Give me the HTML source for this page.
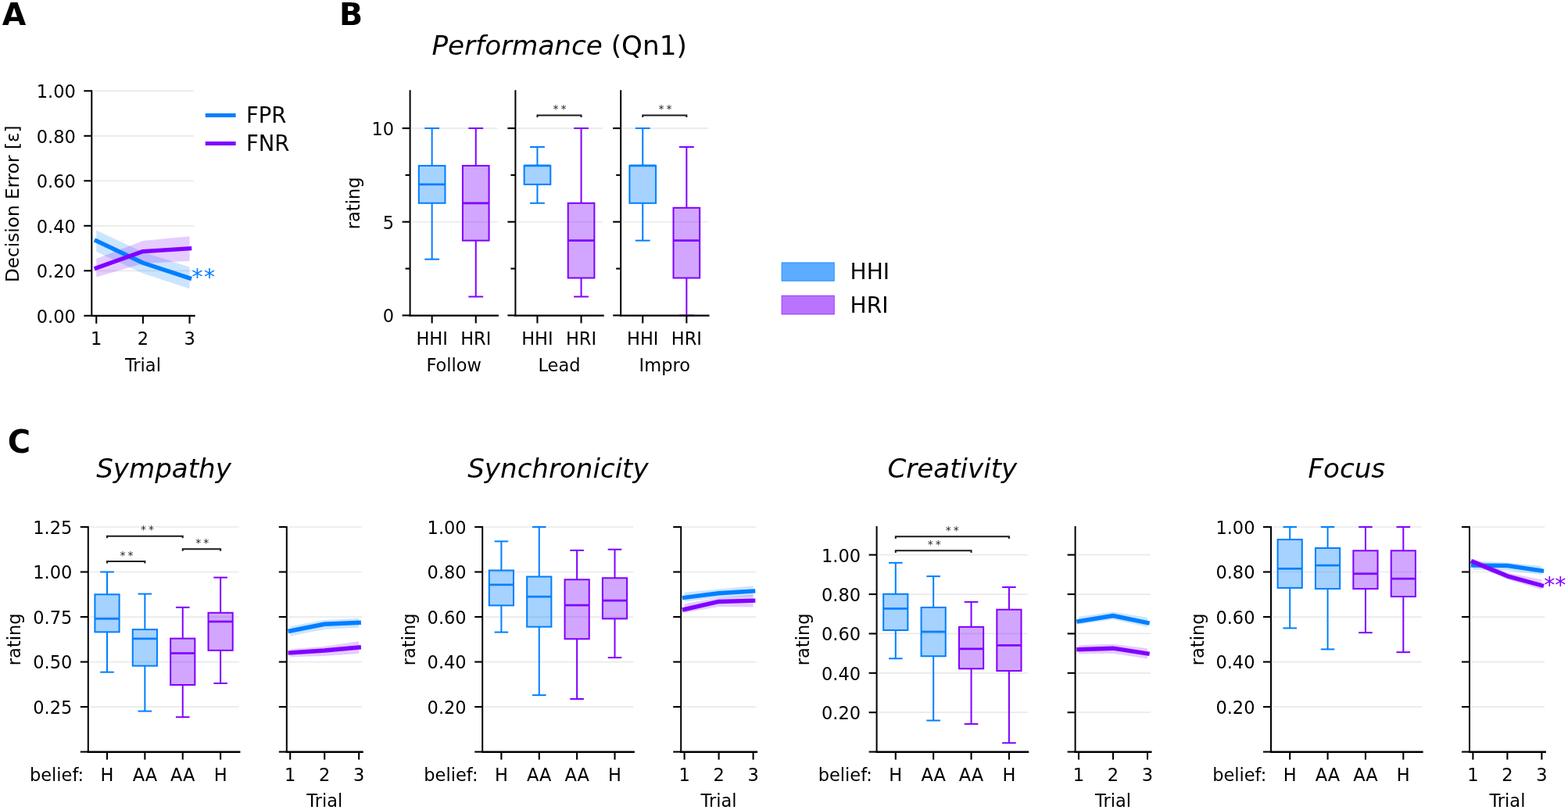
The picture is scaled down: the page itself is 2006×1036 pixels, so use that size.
<!DOCTYPE html>
<html><head><meta charset="utf-8"><style>
html,body{margin:0;padding:0;background:#fff;}
svg{display:block;font-family:"DejaVu Sans","Liberation Sans",sans-serif;}
</style></head><body>
<svg width="2006" height="1036" viewBox="0 0 2006 1036">
<rect width="2006" height="1036" fill="#fff"/>
<text x="2.75" y="31.90" font-size="39.5" text-anchor="start" fill="#000" font-weight="bold">A</text>
<line x1="119.80" y1="346.30" x2="248.00" y2="346.30" stroke="#eaeaea" stroke-width="1.7" stroke-linecap="butt"/>
<line x1="119.80" y1="288.80" x2="248.00" y2="288.80" stroke="#eaeaea" stroke-width="1.7" stroke-linecap="butt"/>
<line x1="119.80" y1="231.30" x2="248.00" y2="231.30" stroke="#eaeaea" stroke-width="1.7" stroke-linecap="butt"/>
<line x1="119.80" y1="173.80" x2="248.00" y2="173.80" stroke="#eaeaea" stroke-width="1.7" stroke-linecap="butt"/>
<line x1="119.80" y1="116.30" x2="248.00" y2="116.30" stroke="#eaeaea" stroke-width="1.7" stroke-linecap="butt"/>
<polygon points="123.26,294.61 182.90,322.44 242.54,341.50 242.54,369.19 182.90,349.75 123.26,321.89" fill="#007fff" fill-opacity="0.2" stroke="none"/>
<polygon points="123.26,331.06 182.90,308.06 242.54,302.20 242.54,333.65 182.90,337.10 123.26,354.49" fill="#7f00ff" fill-opacity="0.2" stroke="none"/>
<polyline points="123.26,308.00 182.90,336.24 242.54,355.79" fill="none" stroke="#007fff" stroke-width="5.4" stroke-linecap="square" stroke-linejoin="round"/>
<polyline points="123.26,342.85 182.90,321.58 242.54,317.84" fill="none" stroke="#7f00ff" stroke-width="5.4" stroke-linecap="square" stroke-linejoin="round"/>
<line x1="107.30" y1="403.80" x2="117.30" y2="403.80" stroke="#000" stroke-width="2.1" stroke-linecap="butt"/>
<line x1="107.30" y1="346.30" x2="117.30" y2="346.30" stroke="#000" stroke-width="2.1" stroke-linecap="butt"/>
<line x1="107.30" y1="288.80" x2="117.30" y2="288.80" stroke="#000" stroke-width="2.1" stroke-linecap="butt"/>
<line x1="107.30" y1="231.30" x2="117.30" y2="231.30" stroke="#000" stroke-width="2.1" stroke-linecap="butt"/>
<line x1="107.30" y1="173.80" x2="117.30" y2="173.80" stroke="#000" stroke-width="2.1" stroke-linecap="butt"/>
<line x1="107.30" y1="116.30" x2="117.30" y2="116.30" stroke="#000" stroke-width="2.1" stroke-linecap="butt"/>
<line x1="123.26" y1="403.80" x2="123.26" y2="413.80" stroke="#000" stroke-width="2.1" stroke-linecap="butt"/>
<line x1="182.90" y1="403.80" x2="182.90" y2="413.80" stroke="#000" stroke-width="2.1" stroke-linecap="butt"/>
<line x1="242.54" y1="403.80" x2="242.54" y2="413.80" stroke="#000" stroke-width="2.1" stroke-linecap="butt"/>
<line x1="117.30" y1="403.80" x2="117.30" y2="116.30" stroke="#000" stroke-width="2.0" stroke-linecap="square"/>
<line x1="117.30" y1="403.95" x2="248.50" y2="403.95" stroke="#000" stroke-width="2.3" stroke-linecap="square"/>
<text x="96.80" y="412.70" font-size="22.5" text-anchor="end" fill="#000">0.00</text>
<text x="96.80" y="355.20" font-size="22.5" text-anchor="end" fill="#000">0.20</text>
<text x="96.80" y="297.70" font-size="22.5" text-anchor="end" fill="#000">0.40</text>
<text x="96.80" y="240.20" font-size="22.5" text-anchor="end" fill="#000">0.60</text>
<text x="96.80" y="182.70" font-size="22.5" text-anchor="end" fill="#000">0.80</text>
<text x="96.80" y="125.20" font-size="22.5" text-anchor="end" fill="#000">1.00</text>
<text x="123.26" y="441.00" font-size="22.5" text-anchor="middle" fill="#000">1</text>
<text x="182.90" y="441.00" font-size="22.5" text-anchor="middle" fill="#000">2</text>
<text x="242.54" y="441.00" font-size="22.5" text-anchor="middle" fill="#000">3</text>
<text x="182.90" y="474.70" font-size="22.5" text-anchor="middle" fill="#000">Trial</text>
<text transform="translate(23.7,260.8) rotate(-90)" font-size="23.2" text-anchor="middle">Decision Error [ε]</text>
<line x1="262.70" y1="147.40" x2="301.60" y2="147.40" stroke="#007fff" stroke-width="5" stroke-linecap="butt"/>
<line x1="262.70" y1="183.50" x2="301.60" y2="183.50" stroke="#7f00ff" stroke-width="5" stroke-linecap="butt"/>
<text x="314.91" y="157.40" font-size="27.5" text-anchor="start" fill="#000">FPR</text>
<text x="314.91" y="193.30" font-size="27.5" text-anchor="start" fill="#000">FNR</text>
<text x="245.34" y="363.84" font-size="28.8" text-anchor="start" fill="#007fff" letter-spacing="1">**</text>
<text x="434.07" y="32.00" font-size="39.5" text-anchor="start" fill="#000" font-weight="bold">B</text>
<text x="552.4" y="69.8" font-size="34.2"><tspan font-style="italic">Performance</tspan> (Qn1)</text>
<line x1="527.10" y1="283.73" x2="636.30" y2="283.73" stroke="#eaeaea" stroke-width="1.7" stroke-linecap="butt"/>
<line x1="527.10" y1="164.07" x2="636.30" y2="164.07" stroke="#eaeaea" stroke-width="1.7" stroke-linecap="butt"/>
<line x1="552.65" y1="259.80" x2="552.65" y2="331.60" stroke="#007fff" stroke-width="2.0" stroke-linecap="butt"/>
<line x1="552.65" y1="211.93" x2="552.65" y2="164.07" stroke="#007fff" stroke-width="2.0" stroke-linecap="butt"/>
<line x1="544.24" y1="331.60" x2="561.07" y2="331.60" stroke="#007fff" stroke-width="2.0" stroke-linecap="square"/>
<line x1="544.24" y1="164.07" x2="561.07" y2="164.07" stroke="#007fff" stroke-width="2.0" stroke-linecap="square"/>
<rect x="535.82" y="211.93" width="33.66" height="47.87" fill="rgba(0,127,255,0.35)" stroke="#007fff" stroke-width="2.0"/>
<line x1="535.82" y1="235.87" x2="569.48" y2="235.87" stroke="#007fff" stroke-width="2.7" stroke-linecap="butt"/>
<line x1="608.75" y1="307.67" x2="608.75" y2="379.47" stroke="#7f00ff" stroke-width="2.0" stroke-linecap="butt"/>
<line x1="608.75" y1="211.93" x2="608.75" y2="164.07" stroke="#7f00ff" stroke-width="2.0" stroke-linecap="butt"/>
<line x1="600.34" y1="379.47" x2="617.16" y2="379.47" stroke="#7f00ff" stroke-width="2.0" stroke-linecap="square"/>
<line x1="600.34" y1="164.07" x2="617.16" y2="164.07" stroke="#7f00ff" stroke-width="2.0" stroke-linecap="square"/>
<rect x="591.92" y="211.93" width="33.66" height="95.73" fill="rgba(127,0,255,0.35)" stroke="#7f00ff" stroke-width="2.0"/>
<line x1="591.92" y1="259.80" x2="625.58" y2="259.80" stroke="#7f00ff" stroke-width="2.7" stroke-linecap="butt"/>
<line x1="514.60" y1="403.40" x2="524.60" y2="403.40" stroke="#000" stroke-width="2.1" stroke-linecap="butt"/>
<line x1="514.60" y1="283.73" x2="524.60" y2="283.73" stroke="#000" stroke-width="2.1" stroke-linecap="butt"/>
<line x1="514.60" y1="164.07" x2="524.60" y2="164.07" stroke="#000" stroke-width="2.1" stroke-linecap="butt"/>
<line x1="518.60" y1="343.57" x2="524.60" y2="343.57" stroke="#000" stroke-width="2.1" stroke-linecap="butt"/>
<line x1="518.60" y1="223.90" x2="524.60" y2="223.90" stroke="#000" stroke-width="2.1" stroke-linecap="butt"/>
<line x1="552.65" y1="403.40" x2="552.65" y2="413.40" stroke="#000" stroke-width="2.1" stroke-linecap="butt"/>
<line x1="608.75" y1="403.40" x2="608.75" y2="413.40" stroke="#000" stroke-width="2.1" stroke-linecap="butt"/>
<line x1="524.60" y1="403.40" x2="524.60" y2="116.20" stroke="#000" stroke-width="2.0" stroke-linecap="square"/>
<line x1="524.60" y1="403.55" x2="636.80" y2="403.55" stroke="#000" stroke-width="2.3" stroke-linecap="square"/>
<text x="504.10" y="412.30" font-size="22.5" text-anchor="end" fill="#000">0</text>
<text x="504.10" y="292.63" font-size="22.5" text-anchor="end" fill="#000">5</text>
<text x="504.10" y="172.97" font-size="22.5" text-anchor="end" fill="#000">10</text>
<text x="552.65" y="440.60" font-size="22.5" text-anchor="middle" fill="#000">HHI</text>
<text x="608.75" y="440.60" font-size="22.5" text-anchor="middle" fill="#000">HRI</text>
<text x="580.70" y="474.60" font-size="22.5" text-anchor="middle" fill="#000">Follow</text>
<line x1="661.90" y1="283.73" x2="771.10" y2="283.73" stroke="#eaeaea" stroke-width="1.7" stroke-linecap="butt"/>
<line x1="661.90" y1="164.07" x2="771.10" y2="164.07" stroke="#eaeaea" stroke-width="1.7" stroke-linecap="butt"/>
<line x1="687.45" y1="235.87" x2="687.45" y2="259.80" stroke="#007fff" stroke-width="2.0" stroke-linecap="butt"/>
<line x1="687.45" y1="211.93" x2="687.45" y2="188.00" stroke="#007fff" stroke-width="2.0" stroke-linecap="butt"/>
<line x1="679.04" y1="259.80" x2="695.87" y2="259.80" stroke="#007fff" stroke-width="2.0" stroke-linecap="square"/>
<line x1="679.04" y1="188.00" x2="695.87" y2="188.00" stroke="#007fff" stroke-width="2.0" stroke-linecap="square"/>
<rect x="670.62" y="211.93" width="33.66" height="23.93" fill="rgba(0,127,255,0.35)" stroke="#007fff" stroke-width="2.0"/>
<line x1="670.62" y1="211.93" x2="704.28" y2="211.93" stroke="#007fff" stroke-width="2.7" stroke-linecap="butt"/>
<line x1="743.55" y1="355.53" x2="743.55" y2="379.47" stroke="#7f00ff" stroke-width="2.0" stroke-linecap="butt"/>
<line x1="743.55" y1="259.80" x2="743.55" y2="164.07" stroke="#7f00ff" stroke-width="2.0" stroke-linecap="butt"/>
<line x1="735.14" y1="379.47" x2="751.97" y2="379.47" stroke="#7f00ff" stroke-width="2.0" stroke-linecap="square"/>
<line x1="735.14" y1="164.07" x2="751.97" y2="164.07" stroke="#7f00ff" stroke-width="2.0" stroke-linecap="square"/>
<rect x="726.72" y="259.80" width="33.66" height="95.73" fill="rgba(127,0,255,0.35)" stroke="#7f00ff" stroke-width="2.0"/>
<line x1="726.72" y1="307.67" x2="760.38" y2="307.67" stroke="#7f00ff" stroke-width="2.7" stroke-linecap="butt"/>
<line x1="649.40" y1="403.40" x2="659.40" y2="403.40" stroke="#000" stroke-width="2.1" stroke-linecap="butt"/>
<line x1="649.40" y1="283.73" x2="659.40" y2="283.73" stroke="#000" stroke-width="2.1" stroke-linecap="butt"/>
<line x1="649.40" y1="164.07" x2="659.40" y2="164.07" stroke="#000" stroke-width="2.1" stroke-linecap="butt"/>
<line x1="653.40" y1="343.57" x2="659.40" y2="343.57" stroke="#000" stroke-width="2.1" stroke-linecap="butt"/>
<line x1="653.40" y1="223.90" x2="659.40" y2="223.90" stroke="#000" stroke-width="2.1" stroke-linecap="butt"/>
<line x1="687.45" y1="403.40" x2="687.45" y2="413.40" stroke="#000" stroke-width="2.1" stroke-linecap="butt"/>
<line x1="743.55" y1="403.40" x2="743.55" y2="413.40" stroke="#000" stroke-width="2.1" stroke-linecap="butt"/>
<line x1="659.40" y1="403.40" x2="659.40" y2="116.20" stroke="#000" stroke-width="2.0" stroke-linecap="square"/>
<line x1="659.40" y1="403.55" x2="771.60" y2="403.55" stroke="#000" stroke-width="2.3" stroke-linecap="square"/>
<text x="687.45" y="440.60" font-size="22.5" text-anchor="middle" fill="#000">HHI</text>
<text x="743.55" y="440.60" font-size="22.5" text-anchor="middle" fill="#000">HRI</text>
<text x="715.50" y="474.60" font-size="22.5" text-anchor="middle" fill="#000">Lead</text>
<polyline points="687.45,150.00 687.45,147.40 743.55,147.40 743.55,150.00" fill="none" stroke="#1a1a1a" stroke-width="2" stroke-linejoin="miter"/>
<text x="707.60" y="144.00" font-size="14" text-anchor="start" fill="#222">*</text>
<text x="717.60" y="144.00" font-size="14" text-anchor="start" fill="#222">*</text>
<line x1="796.70" y1="283.73" x2="905.90" y2="283.73" stroke="#eaeaea" stroke-width="1.7" stroke-linecap="butt"/>
<line x1="796.70" y1="164.07" x2="905.90" y2="164.07" stroke="#eaeaea" stroke-width="1.7" stroke-linecap="butt"/>
<line x1="822.25" y1="259.80" x2="822.25" y2="307.67" stroke="#007fff" stroke-width="2.0" stroke-linecap="butt"/>
<line x1="822.25" y1="211.93" x2="822.25" y2="164.07" stroke="#007fff" stroke-width="2.0" stroke-linecap="butt"/>
<line x1="813.84" y1="307.67" x2="830.66" y2="307.67" stroke="#007fff" stroke-width="2.0" stroke-linecap="square"/>
<line x1="813.84" y1="164.07" x2="830.66" y2="164.07" stroke="#007fff" stroke-width="2.0" stroke-linecap="square"/>
<rect x="805.42" y="211.93" width="33.66" height="47.87" fill="rgba(0,127,255,0.35)" stroke="#007fff" stroke-width="2.0"/>
<line x1="805.42" y1="211.93" x2="839.08" y2="211.93" stroke="#007fff" stroke-width="2.7" stroke-linecap="butt"/>
<line x1="878.35" y1="355.53" x2="878.35" y2="403.40" stroke="#7f00ff" stroke-width="2.0" stroke-linecap="butt"/>
<line x1="878.35" y1="265.78" x2="878.35" y2="188.00" stroke="#7f00ff" stroke-width="2.0" stroke-linecap="butt"/>
<line x1="869.94" y1="403.40" x2="886.77" y2="403.40" stroke="#7f00ff" stroke-width="2.0" stroke-linecap="square"/>
<line x1="869.94" y1="188.00" x2="886.77" y2="188.00" stroke="#7f00ff" stroke-width="2.0" stroke-linecap="square"/>
<rect x="861.52" y="265.78" width="33.66" height="89.75" fill="rgba(127,0,255,0.35)" stroke="#7f00ff" stroke-width="2.0"/>
<line x1="861.52" y1="307.67" x2="895.18" y2="307.67" stroke="#7f00ff" stroke-width="2.7" stroke-linecap="butt"/>
<line x1="784.20" y1="403.40" x2="794.20" y2="403.40" stroke="#000" stroke-width="2.1" stroke-linecap="butt"/>
<line x1="784.20" y1="283.73" x2="794.20" y2="283.73" stroke="#000" stroke-width="2.1" stroke-linecap="butt"/>
<line x1="784.20" y1="164.07" x2="794.20" y2="164.07" stroke="#000" stroke-width="2.1" stroke-linecap="butt"/>
<line x1="788.20" y1="343.57" x2="794.20" y2="343.57" stroke="#000" stroke-width="2.1" stroke-linecap="butt"/>
<line x1="788.20" y1="223.90" x2="794.20" y2="223.90" stroke="#000" stroke-width="2.1" stroke-linecap="butt"/>
<line x1="822.25" y1="403.40" x2="822.25" y2="413.40" stroke="#000" stroke-width="2.1" stroke-linecap="butt"/>
<line x1="878.35" y1="403.40" x2="878.35" y2="413.40" stroke="#000" stroke-width="2.1" stroke-linecap="butt"/>
<line x1="794.20" y1="403.40" x2="794.20" y2="116.20" stroke="#000" stroke-width="2.0" stroke-linecap="square"/>
<line x1="794.20" y1="403.55" x2="906.40" y2="403.55" stroke="#000" stroke-width="2.3" stroke-linecap="square"/>
<text x="822.25" y="440.60" font-size="22.5" text-anchor="middle" fill="#000">HHI</text>
<text x="878.35" y="440.60" font-size="22.5" text-anchor="middle" fill="#000">HRI</text>
<text x="850.30" y="474.60" font-size="22.5" text-anchor="middle" fill="#000">Impro</text>
<polyline points="822.25,150.00 822.25,147.40 878.35,147.40 878.35,150.00" fill="none" stroke="#1a1a1a" stroke-width="2" stroke-linejoin="miter"/>
<text x="842.40" y="144.00" font-size="14" text-anchor="start" fill="#222">*</text>
<text x="852.40" y="144.00" font-size="14" text-anchor="start" fill="#222">*</text>
<text transform="translate(459.82,259.80) rotate(-90)" font-size="22.5" text-anchor="middle">rating</text>
<rect x="1000.1" y="335.9" width="67.2" height="23.4" fill="#007fff" fill-opacity="0.64" stroke="#007fff" stroke-opacity="0.75" stroke-width="1"/>
<rect x="1000.1" y="378.1" width="67.2" height="23.9" fill="#7f00ff" fill-opacity="0.55" stroke="#7f00ff" stroke-opacity="0.65" stroke-width="1"/>
<text x="1087.55" y="356.70" font-size="28.1" text-anchor="start" fill="#000">HHI</text>
<text x="1087.55" y="400.30" font-size="28.1" text-anchor="start" fill="#000">HRI</text>
<text x="9.80" y="578.50" font-size="40" text-anchor="start" fill="#000" font-weight="bold">C</text>
<line x1="115.30" y1="904.08" x2="305.80" y2="904.08" stroke="#eaeaea" stroke-width="1.7" stroke-linecap="butt"/>
<line x1="115.30" y1="846.56" x2="305.80" y2="846.56" stroke="#eaeaea" stroke-width="1.7" stroke-linecap="butt"/>
<line x1="115.30" y1="789.04" x2="305.80" y2="789.04" stroke="#eaeaea" stroke-width="1.7" stroke-linecap="butt"/>
<line x1="115.30" y1="731.52" x2="305.80" y2="731.52" stroke="#eaeaea" stroke-width="1.7" stroke-linecap="butt"/>
<line x1="115.30" y1="674.00" x2="305.80" y2="674.00" stroke="#eaeaea" stroke-width="1.7" stroke-linecap="butt"/>
<line x1="136.99" y1="808.37" x2="136.99" y2="859.67" stroke="#007fff" stroke-width="2.0" stroke-linecap="butt"/>
<line x1="136.99" y1="760.28" x2="136.99" y2="731.52" stroke="#007fff" stroke-width="2.0" stroke-linecap="butt"/>
<line x1="129.19" y1="859.67" x2="144.79" y2="859.67" stroke="#007fff" stroke-width="2.0" stroke-linecap="square"/>
<line x1="129.19" y1="731.52" x2="144.79" y2="731.52" stroke="#007fff" stroke-width="2.0" stroke-linecap="square"/>
<rect x="121.39" y="760.28" width="31.20" height="48.09" fill="rgba(0,127,255,0.35)" stroke="#007fff" stroke-width="2.0"/>
<line x1="121.39" y1="791.34" x2="152.59" y2="791.34" stroke="#007fff" stroke-width="2.7" stroke-linecap="butt"/>
<line x1="185.36" y1="851.62" x2="185.36" y2="909.60" stroke="#007fff" stroke-width="2.0" stroke-linecap="butt"/>
<line x1="185.36" y1="805.15" x2="185.36" y2="759.59" stroke="#007fff" stroke-width="2.0" stroke-linecap="butt"/>
<line x1="177.56" y1="909.60" x2="193.16" y2="909.60" stroke="#007fff" stroke-width="2.0" stroke-linecap="square"/>
<line x1="177.56" y1="759.59" x2="193.16" y2="759.59" stroke="#007fff" stroke-width="2.0" stroke-linecap="square"/>
<rect x="169.76" y="805.15" width="31.20" height="46.48" fill="rgba(0,127,255,0.35)" stroke="#007fff" stroke-width="2.0"/>
<line x1="169.76" y1="816.88" x2="200.96" y2="816.88" stroke="#007fff" stroke-width="2.7" stroke-linecap="butt"/>
<line x1="233.74" y1="876.01" x2="233.74" y2="917.19" stroke="#7f00ff" stroke-width="2.0" stroke-linecap="butt"/>
<line x1="233.74" y1="816.65" x2="233.74" y2="776.85" stroke="#7f00ff" stroke-width="2.0" stroke-linecap="butt"/>
<line x1="225.94" y1="917.19" x2="241.54" y2="917.19" stroke="#7f00ff" stroke-width="2.0" stroke-linecap="square"/>
<line x1="225.94" y1="776.85" x2="241.54" y2="776.85" stroke="#7f00ff" stroke-width="2.0" stroke-linecap="square"/>
<rect x="218.14" y="816.65" width="31.20" height="59.36" fill="rgba(127,0,255,0.35)" stroke="#7f00ff" stroke-width="2.0"/>
<line x1="218.14" y1="835.52" x2="249.34" y2="835.52" stroke="#7f00ff" stroke-width="2.7" stroke-linecap="butt"/>
<line x1="282.11" y1="831.83" x2="282.11" y2="873.94" stroke="#7f00ff" stroke-width="2.0" stroke-linecap="butt"/>
<line x1="282.11" y1="783.75" x2="282.11" y2="738.65" stroke="#7f00ff" stroke-width="2.0" stroke-linecap="butt"/>
<line x1="274.31" y1="873.94" x2="289.91" y2="873.94" stroke="#7f00ff" stroke-width="2.0" stroke-linecap="square"/>
<line x1="274.31" y1="738.65" x2="289.91" y2="738.65" stroke="#7f00ff" stroke-width="2.0" stroke-linecap="square"/>
<rect x="266.51" y="783.75" width="31.20" height="48.09" fill="rgba(127,0,255,0.35)" stroke="#7f00ff" stroke-width="2.0"/>
<line x1="266.51" y1="795.02" x2="297.71" y2="795.02" stroke="#7f00ff" stroke-width="2.7" stroke-linecap="butt"/>
<line x1="102.80" y1="961.60" x2="112.80" y2="961.60" stroke="#000" stroke-width="2.1" stroke-linecap="butt"/>
<line x1="102.80" y1="904.08" x2="112.80" y2="904.08" stroke="#000" stroke-width="2.1" stroke-linecap="butt"/>
<line x1="102.80" y1="846.56" x2="112.80" y2="846.56" stroke="#000" stroke-width="2.1" stroke-linecap="butt"/>
<line x1="102.80" y1="789.04" x2="112.80" y2="789.04" stroke="#000" stroke-width="2.1" stroke-linecap="butt"/>
<line x1="102.80" y1="731.52" x2="112.80" y2="731.52" stroke="#000" stroke-width="2.1" stroke-linecap="butt"/>
<line x1="102.80" y1="674.00" x2="112.80" y2="674.00" stroke="#000" stroke-width="2.1" stroke-linecap="butt"/>
<line x1="136.99" y1="961.60" x2="136.99" y2="971.60" stroke="#000" stroke-width="2.1" stroke-linecap="butt"/>
<line x1="185.36" y1="961.60" x2="185.36" y2="971.60" stroke="#000" stroke-width="2.1" stroke-linecap="butt"/>
<line x1="233.74" y1="961.60" x2="233.74" y2="971.60" stroke="#000" stroke-width="2.1" stroke-linecap="butt"/>
<line x1="282.11" y1="961.60" x2="282.11" y2="971.60" stroke="#000" stroke-width="2.1" stroke-linecap="butt"/>
<line x1="112.80" y1="961.60" x2="112.80" y2="674.00" stroke="#000" stroke-width="2.0" stroke-linecap="square"/>
<line x1="112.80" y1="961.75" x2="306.30" y2="961.75" stroke="#000" stroke-width="2.3" stroke-linecap="square"/>
<text x="92.30" y="912.98" font-size="22.5" text-anchor="end" fill="#000">0.25</text>
<text x="92.30" y="855.46" font-size="22.5" text-anchor="end" fill="#000">0.50</text>
<text x="92.30" y="797.94" font-size="22.5" text-anchor="end" fill="#000">0.75</text>
<text x="92.30" y="740.42" font-size="22.5" text-anchor="end" fill="#000">1.00</text>
<text x="92.30" y="682.90" font-size="22.5" text-anchor="end" fill="#000">1.25</text>
<text x="136.99" y="999.30" font-size="22.5" text-anchor="middle" fill="#000">H</text>
<text x="185.36" y="999.30" font-size="22.5" text-anchor="middle" fill="#000">AA</text>
<text x="233.74" y="999.30" font-size="22.5" text-anchor="middle" fill="#000">AA</text>
<text x="282.11" y="999.30" font-size="22.5" text-anchor="middle" fill="#000">H</text>
<polyline points="136.99,720.60 136.99,718.00 185.36,718.00 185.36,720.60" fill="none" stroke="#1a1a1a" stroke-width="2" stroke-linejoin="miter"/>
<text x="153.38" y="714.60" font-size="14" text-anchor="start" fill="#222">*</text>
<text x="163.38" y="714.60" font-size="14" text-anchor="start" fill="#222">*</text>
<polyline points="136.99,688.30 136.99,685.70 233.74,685.70 233.74,688.30" fill="none" stroke="#1a1a1a" stroke-width="2" stroke-linejoin="miter"/>
<rect x="178.46" y="670.30" width="20" height="10" fill="#fff"/>
<text x="179.96" y="682.30" font-size="14" text-anchor="start" fill="#222">*</text>
<text x="189.96" y="682.30" font-size="14" text-anchor="start" fill="#222">*</text>
<polyline points="233.74,704.80 233.74,702.20 282.11,702.20 282.11,704.80" fill="none" stroke="#1a1a1a" stroke-width="2" stroke-linejoin="miter"/>
<text x="250.28" y="698.80" font-size="14" text-anchor="start" fill="#222">*</text>
<text x="260.28" y="698.80" font-size="14" text-anchor="start" fill="#222">*</text>
<text x="107.10" y="999.30" font-size="22.5" text-anchor="end" fill="#000">belief:</text>
<text x="209.55" y="611.30" font-size="34.1" text-anchor="middle" fill="#000" font-style="italic">Sympathy</text>
<text transform="translate(26.42,817.80) rotate(-90)" font-size="22.5" text-anchor="middle">rating</text>
<line x1="369.30" y1="904.08" x2="463.10" y2="904.08" stroke="#eaeaea" stroke-width="1.7" stroke-linecap="butt"/>
<line x1="369.30" y1="846.56" x2="463.10" y2="846.56" stroke="#eaeaea" stroke-width="1.7" stroke-linecap="butt"/>
<line x1="369.30" y1="789.04" x2="463.10" y2="789.04" stroke="#eaeaea" stroke-width="1.7" stroke-linecap="butt"/>
<line x1="369.30" y1="731.52" x2="463.10" y2="731.52" stroke="#eaeaea" stroke-width="1.7" stroke-linecap="butt"/>
<line x1="369.30" y1="674.00" x2="463.10" y2="674.00" stroke="#eaeaea" stroke-width="1.7" stroke-linecap="butt"/>
<polygon points="371.20,800.89 415.20,792.95 459.20,790.77 459.20,802.38 415.20,804.92 371.20,813.43" fill="#007fff" fill-opacity="0.2" stroke="none"/>
<polygon points="371.20,830.22 415.20,826.77 459.20,820.22 459.20,836.11 415.20,838.97 371.20,840.21" fill="#7f00ff" fill-opacity="0.2" stroke="none"/>
<polyline points="371.20,806.99 415.20,798.24 459.20,796.40" fill="none" stroke="#007fff" stroke-width="5.4" stroke-linecap="square" stroke-linejoin="round"/>
<polyline points="371.20,834.92 415.20,832.06 459.20,828.02" fill="none" stroke="#7f00ff" stroke-width="5.4" stroke-linecap="square" stroke-linejoin="round"/>
<line x1="356.80" y1="961.60" x2="366.80" y2="961.60" stroke="#000" stroke-width="2.1" stroke-linecap="butt"/>
<line x1="356.80" y1="904.08" x2="366.80" y2="904.08" stroke="#000" stroke-width="2.1" stroke-linecap="butt"/>
<line x1="356.80" y1="846.56" x2="366.80" y2="846.56" stroke="#000" stroke-width="2.1" stroke-linecap="butt"/>
<line x1="356.80" y1="789.04" x2="366.80" y2="789.04" stroke="#000" stroke-width="2.1" stroke-linecap="butt"/>
<line x1="356.80" y1="731.52" x2="366.80" y2="731.52" stroke="#000" stroke-width="2.1" stroke-linecap="butt"/>
<line x1="356.80" y1="674.00" x2="366.80" y2="674.00" stroke="#000" stroke-width="2.1" stroke-linecap="butt"/>
<line x1="371.20" y1="961.60" x2="371.20" y2="971.60" stroke="#000" stroke-width="2.1" stroke-linecap="butt"/>
<line x1="415.20" y1="961.60" x2="415.20" y2="971.60" stroke="#000" stroke-width="2.1" stroke-linecap="butt"/>
<line x1="459.20" y1="961.60" x2="459.20" y2="971.60" stroke="#000" stroke-width="2.1" stroke-linecap="butt"/>
<line x1="366.80" y1="961.60" x2="366.80" y2="674.00" stroke="#000" stroke-width="2.0" stroke-linecap="square"/>
<line x1="366.80" y1="961.75" x2="463.60" y2="961.75" stroke="#000" stroke-width="2.3" stroke-linecap="square"/>
<text x="371.20" y="999.30" font-size="22.5" text-anchor="middle" fill="#000">1</text>
<text x="415.20" y="999.30" font-size="22.5" text-anchor="middle" fill="#000">2</text>
<text x="459.20" y="999.30" font-size="22.5" text-anchor="middle" fill="#000">3</text>
<text x="415.20" y="1032.30" font-size="22.5" text-anchor="middle" fill="#000">Trial</text>
<line x1="619.70" y1="904.08" x2="810.20" y2="904.08" stroke="#eaeaea" stroke-width="1.7" stroke-linecap="butt"/>
<line x1="619.70" y1="846.56" x2="810.20" y2="846.56" stroke="#eaeaea" stroke-width="1.7" stroke-linecap="butt"/>
<line x1="619.70" y1="789.04" x2="810.20" y2="789.04" stroke="#eaeaea" stroke-width="1.7" stroke-linecap="butt"/>
<line x1="619.70" y1="731.52" x2="810.20" y2="731.52" stroke="#eaeaea" stroke-width="1.7" stroke-linecap="butt"/>
<line x1="619.70" y1="674.00" x2="810.20" y2="674.00" stroke="#eaeaea" stroke-width="1.7" stroke-linecap="butt"/>
<line x1="641.39" y1="774.37" x2="641.39" y2="808.60" stroke="#007fff" stroke-width="2.0" stroke-linecap="butt"/>
<line x1="641.39" y1="729.51" x2="641.39" y2="692.41" stroke="#007fff" stroke-width="2.0" stroke-linecap="butt"/>
<line x1="633.59" y1="808.60" x2="649.19" y2="808.60" stroke="#007fff" stroke-width="2.0" stroke-linecap="square"/>
<line x1="633.59" y1="692.41" x2="649.19" y2="692.41" stroke="#007fff" stroke-width="2.0" stroke-linecap="square"/>
<rect x="625.79" y="729.51" width="31.20" height="44.87" fill="rgba(0,127,255,0.35)" stroke="#007fff" stroke-width="2.0"/>
<line x1="625.79" y1="747.91" x2="656.99" y2="747.91" stroke="#007fff" stroke-width="2.7" stroke-linecap="butt"/>
<line x1="689.76" y1="801.69" x2="689.76" y2="889.12" stroke="#007fff" stroke-width="2.0" stroke-linecap="butt"/>
<line x1="689.76" y1="737.56" x2="689.76" y2="674.00" stroke="#007fff" stroke-width="2.0" stroke-linecap="butt"/>
<line x1="681.96" y1="889.12" x2="697.56" y2="889.12" stroke="#007fff" stroke-width="2.0" stroke-linecap="square"/>
<line x1="681.96" y1="674.00" x2="697.56" y2="674.00" stroke="#007fff" stroke-width="2.0" stroke-linecap="square"/>
<rect x="674.16" y="737.56" width="31.20" height="64.13" fill="rgba(0,127,255,0.35)" stroke="#007fff" stroke-width="2.0"/>
<line x1="674.16" y1="763.16" x2="705.36" y2="763.16" stroke="#007fff" stroke-width="2.7" stroke-linecap="butt"/>
<line x1="738.14" y1="817.22" x2="738.14" y2="894.01" stroke="#7f00ff" stroke-width="2.0" stroke-linecap="butt"/>
<line x1="738.14" y1="741.30" x2="738.14" y2="703.91" stroke="#7f00ff" stroke-width="2.0" stroke-linecap="butt"/>
<line x1="730.34" y1="894.01" x2="745.94" y2="894.01" stroke="#7f00ff" stroke-width="2.0" stroke-linecap="square"/>
<line x1="730.34" y1="703.91" x2="745.94" y2="703.91" stroke="#7f00ff" stroke-width="2.0" stroke-linecap="square"/>
<rect x="722.54" y="741.30" width="31.20" height="75.93" fill="rgba(127,0,255,0.35)" stroke="#7f00ff" stroke-width="2.0"/>
<line x1="722.54" y1="774.08" x2="753.74" y2="774.08" stroke="#7f00ff" stroke-width="2.7" stroke-linecap="butt"/>
<line x1="786.51" y1="791.34" x2="786.51" y2="841.10" stroke="#7f00ff" stroke-width="2.0" stroke-linecap="butt"/>
<line x1="786.51" y1="739.29" x2="786.51" y2="702.76" stroke="#7f00ff" stroke-width="2.0" stroke-linecap="butt"/>
<line x1="778.71" y1="841.10" x2="794.31" y2="841.10" stroke="#7f00ff" stroke-width="2.0" stroke-linecap="square"/>
<line x1="778.71" y1="702.76" x2="794.31" y2="702.76" stroke="#7f00ff" stroke-width="2.0" stroke-linecap="square"/>
<rect x="770.91" y="739.29" width="31.20" height="52.06" fill="rgba(127,0,255,0.35)" stroke="#7f00ff" stroke-width="2.0"/>
<line x1="770.91" y1="768.05" x2="802.11" y2="768.05" stroke="#7f00ff" stroke-width="2.7" stroke-linecap="butt"/>
<line x1="607.20" y1="961.60" x2="617.20" y2="961.60" stroke="#000" stroke-width="2.1" stroke-linecap="butt"/>
<line x1="607.20" y1="904.08" x2="617.20" y2="904.08" stroke="#000" stroke-width="2.1" stroke-linecap="butt"/>
<line x1="607.20" y1="846.56" x2="617.20" y2="846.56" stroke="#000" stroke-width="2.1" stroke-linecap="butt"/>
<line x1="607.20" y1="789.04" x2="617.20" y2="789.04" stroke="#000" stroke-width="2.1" stroke-linecap="butt"/>
<line x1="607.20" y1="731.52" x2="617.20" y2="731.52" stroke="#000" stroke-width="2.1" stroke-linecap="butt"/>
<line x1="607.20" y1="674.00" x2="617.20" y2="674.00" stroke="#000" stroke-width="2.1" stroke-linecap="butt"/>
<line x1="641.39" y1="961.60" x2="641.39" y2="971.60" stroke="#000" stroke-width="2.1" stroke-linecap="butt"/>
<line x1="689.76" y1="961.60" x2="689.76" y2="971.60" stroke="#000" stroke-width="2.1" stroke-linecap="butt"/>
<line x1="738.14" y1="961.60" x2="738.14" y2="971.60" stroke="#000" stroke-width="2.1" stroke-linecap="butt"/>
<line x1="786.51" y1="961.60" x2="786.51" y2="971.60" stroke="#000" stroke-width="2.1" stroke-linecap="butt"/>
<line x1="617.20" y1="961.60" x2="617.20" y2="674.00" stroke="#000" stroke-width="2.0" stroke-linecap="square"/>
<line x1="617.20" y1="961.75" x2="810.70" y2="961.75" stroke="#000" stroke-width="2.3" stroke-linecap="square"/>
<text x="596.70" y="912.98" font-size="22.5" text-anchor="end" fill="#000">0.20</text>
<text x="596.70" y="855.46" font-size="22.5" text-anchor="end" fill="#000">0.40</text>
<text x="596.70" y="797.94" font-size="22.5" text-anchor="end" fill="#000">0.60</text>
<text x="596.70" y="740.42" font-size="22.5" text-anchor="end" fill="#000">0.80</text>
<text x="596.70" y="682.90" font-size="22.5" text-anchor="end" fill="#000">1.00</text>
<text x="641.39" y="999.30" font-size="22.5" text-anchor="middle" fill="#000">H</text>
<text x="689.76" y="999.30" font-size="22.5" text-anchor="middle" fill="#000">AA</text>
<text x="738.14" y="999.30" font-size="22.5" text-anchor="middle" fill="#000">AA</text>
<text x="786.51" y="999.30" font-size="22.5" text-anchor="middle" fill="#000">H</text>
<text x="611.50" y="999.30" font-size="22.5" text-anchor="end" fill="#000">belief:</text>
<text x="713.95" y="611.30" font-size="34.1" text-anchor="middle" fill="#000" font-style="italic">Synchronicity</text>
<text transform="translate(530.82,817.80) rotate(-90)" font-size="22.5" text-anchor="middle">rating</text>
<line x1="873.70" y1="904.08" x2="967.50" y2="904.08" stroke="#eaeaea" stroke-width="1.7" stroke-linecap="butt"/>
<line x1="873.70" y1="846.56" x2="967.50" y2="846.56" stroke="#eaeaea" stroke-width="1.7" stroke-linecap="butt"/>
<line x1="873.70" y1="789.04" x2="967.50" y2="789.04" stroke="#eaeaea" stroke-width="1.7" stroke-linecap="butt"/>
<line x1="873.70" y1="731.52" x2="967.50" y2="731.52" stroke="#eaeaea" stroke-width="1.7" stroke-linecap="butt"/>
<line x1="873.70" y1="674.00" x2="967.50" y2="674.00" stroke="#eaeaea" stroke-width="1.7" stroke-linecap="butt"/>
<polygon points="875.60,757.69 919.60,753.49 963.60,749.21 963.60,762.87 919.60,764.59 875.60,769.48" fill="#007fff" fill-opacity="0.2" stroke="none"/>
<polygon points="875.60,772.36 919.60,764.39 963.60,760.86 963.60,776.59 919.60,775.90 875.60,783.86" fill="#7f00ff" fill-opacity="0.2" stroke="none"/>
<polyline points="875.60,764.31 919.60,758.70 963.60,755.99" fill="none" stroke="#007fff" stroke-width="5.4" stroke-linecap="square" stroke-linejoin="round"/>
<polyline points="875.60,779.41 919.60,769.48 963.60,768.19" fill="none" stroke="#7f00ff" stroke-width="5.4" stroke-linecap="square" stroke-linejoin="round"/>
<line x1="861.20" y1="961.60" x2="871.20" y2="961.60" stroke="#000" stroke-width="2.1" stroke-linecap="butt"/>
<line x1="861.20" y1="904.08" x2="871.20" y2="904.08" stroke="#000" stroke-width="2.1" stroke-linecap="butt"/>
<line x1="861.20" y1="846.56" x2="871.20" y2="846.56" stroke="#000" stroke-width="2.1" stroke-linecap="butt"/>
<line x1="861.20" y1="789.04" x2="871.20" y2="789.04" stroke="#000" stroke-width="2.1" stroke-linecap="butt"/>
<line x1="861.20" y1="731.52" x2="871.20" y2="731.52" stroke="#000" stroke-width="2.1" stroke-linecap="butt"/>
<line x1="861.20" y1="674.00" x2="871.20" y2="674.00" stroke="#000" stroke-width="2.1" stroke-linecap="butt"/>
<line x1="875.60" y1="961.60" x2="875.60" y2="971.60" stroke="#000" stroke-width="2.1" stroke-linecap="butt"/>
<line x1="919.60" y1="961.60" x2="919.60" y2="971.60" stroke="#000" stroke-width="2.1" stroke-linecap="butt"/>
<line x1="963.60" y1="961.60" x2="963.60" y2="971.60" stroke="#000" stroke-width="2.1" stroke-linecap="butt"/>
<line x1="871.20" y1="961.60" x2="871.20" y2="674.00" stroke="#000" stroke-width="2.0" stroke-linecap="square"/>
<line x1="871.20" y1="961.75" x2="968.00" y2="961.75" stroke="#000" stroke-width="2.3" stroke-linecap="square"/>
<text x="875.60" y="999.30" font-size="22.5" text-anchor="middle" fill="#000">1</text>
<text x="919.60" y="999.30" font-size="22.5" text-anchor="middle" fill="#000">2</text>
<text x="963.60" y="999.30" font-size="22.5" text-anchor="middle" fill="#000">3</text>
<text x="919.60" y="1032.30" font-size="22.5" text-anchor="middle" fill="#000">Trial</text>
<line x1="1124.10" y1="911.21" x2="1314.60" y2="911.21" stroke="#eaeaea" stroke-width="1.7" stroke-linecap="butt"/>
<line x1="1124.10" y1="860.82" x2="1314.60" y2="860.82" stroke="#eaeaea" stroke-width="1.7" stroke-linecap="butt"/>
<line x1="1124.10" y1="810.43" x2="1314.60" y2="810.43" stroke="#eaeaea" stroke-width="1.7" stroke-linecap="butt"/>
<line x1="1124.10" y1="760.04" x2="1314.60" y2="760.04" stroke="#eaeaea" stroke-width="1.7" stroke-linecap="butt"/>
<line x1="1124.10" y1="709.65" x2="1314.60" y2="709.65" stroke="#eaeaea" stroke-width="1.7" stroke-linecap="butt"/>
<line x1="1145.79" y1="806.02" x2="1145.79" y2="842.28" stroke="#007fff" stroke-width="2.0" stroke-linecap="butt"/>
<line x1="1145.79" y1="759.79" x2="1145.79" y2="719.83" stroke="#007fff" stroke-width="2.0" stroke-linecap="butt"/>
<line x1="1137.99" y1="842.28" x2="1153.59" y2="842.28" stroke="#007fff" stroke-width="2.0" stroke-linecap="square"/>
<line x1="1137.99" y1="719.83" x2="1153.59" y2="719.83" stroke="#007fff" stroke-width="2.0" stroke-linecap="square"/>
<rect x="1130.19" y="759.79" width="31.20" height="46.23" fill="rgba(0,127,255,0.35)" stroke="#007fff" stroke-width="2.0"/>
<line x1="1130.19" y1="778.43" x2="1161.39" y2="778.43" stroke="#007fff" stroke-width="2.7" stroke-linecap="butt"/>
<line x1="1194.16" y1="839.28" x2="1194.16" y2="921.54" stroke="#007fff" stroke-width="2.0" stroke-linecap="butt"/>
<line x1="1194.16" y1="776.92" x2="1194.16" y2="737.11" stroke="#007fff" stroke-width="2.0" stroke-linecap="butt"/>
<line x1="1186.36" y1="921.54" x2="1201.96" y2="921.54" stroke="#007fff" stroke-width="2.0" stroke-linecap="square"/>
<line x1="1186.36" y1="737.11" x2="1201.96" y2="737.11" stroke="#007fff" stroke-width="2.0" stroke-linecap="square"/>
<rect x="1178.56" y="776.92" width="31.20" height="62.36" fill="rgba(0,127,255,0.35)" stroke="#007fff" stroke-width="2.0"/>
<line x1="1178.56" y1="808.01" x2="1209.76" y2="808.01" stroke="#007fff" stroke-width="2.7" stroke-linecap="butt"/>
<line x1="1242.54" y1="855.28" x2="1242.54" y2="925.95" stroke="#7f00ff" stroke-width="2.0" stroke-linecap="butt"/>
<line x1="1242.54" y1="801.86" x2="1242.54" y2="769.87" stroke="#7f00ff" stroke-width="2.0" stroke-linecap="butt"/>
<line x1="1234.74" y1="925.95" x2="1250.34" y2="925.95" stroke="#7f00ff" stroke-width="2.0" stroke-linecap="square"/>
<line x1="1234.74" y1="769.87" x2="1250.34" y2="769.87" stroke="#7f00ff" stroke-width="2.0" stroke-linecap="square"/>
<rect x="1226.94" y="801.86" width="31.20" height="53.41" fill="rgba(127,0,255,0.35)" stroke="#7f00ff" stroke-width="2.0"/>
<line x1="1226.94" y1="829.83" x2="1258.14" y2="829.83" stroke="#7f00ff" stroke-width="2.7" stroke-linecap="butt"/>
<line x1="1290.91" y1="858.05" x2="1290.91" y2="950.26" stroke="#7f00ff" stroke-width="2.0" stroke-linecap="butt"/>
<line x1="1290.91" y1="779.69" x2="1290.91" y2="750.97" stroke="#7f00ff" stroke-width="2.0" stroke-linecap="butt"/>
<line x1="1283.11" y1="950.26" x2="1298.71" y2="950.26" stroke="#7f00ff" stroke-width="2.0" stroke-linecap="square"/>
<line x1="1283.11" y1="750.97" x2="1298.71" y2="750.97" stroke="#7f00ff" stroke-width="2.0" stroke-linecap="square"/>
<rect x="1275.31" y="779.69" width="31.20" height="78.36" fill="rgba(127,0,255,0.35)" stroke="#7f00ff" stroke-width="2.0"/>
<line x1="1275.31" y1="825.40" x2="1306.51" y2="825.40" stroke="#7f00ff" stroke-width="2.7" stroke-linecap="butt"/>
<line x1="1111.60" y1="961.60" x2="1121.60" y2="961.60" stroke="#000" stroke-width="2.1" stroke-linecap="butt"/>
<line x1="1111.60" y1="911.21" x2="1121.60" y2="911.21" stroke="#000" stroke-width="2.1" stroke-linecap="butt"/>
<line x1="1111.60" y1="860.82" x2="1121.60" y2="860.82" stroke="#000" stroke-width="2.1" stroke-linecap="butt"/>
<line x1="1111.60" y1="810.43" x2="1121.60" y2="810.43" stroke="#000" stroke-width="2.1" stroke-linecap="butt"/>
<line x1="1111.60" y1="760.04" x2="1121.60" y2="760.04" stroke="#000" stroke-width="2.1" stroke-linecap="butt"/>
<line x1="1111.60" y1="709.65" x2="1121.60" y2="709.65" stroke="#000" stroke-width="2.1" stroke-linecap="butt"/>
<line x1="1145.79" y1="961.60" x2="1145.79" y2="971.60" stroke="#000" stroke-width="2.1" stroke-linecap="butt"/>
<line x1="1194.16" y1="961.60" x2="1194.16" y2="971.60" stroke="#000" stroke-width="2.1" stroke-linecap="butt"/>
<line x1="1242.54" y1="961.60" x2="1242.54" y2="971.60" stroke="#000" stroke-width="2.1" stroke-linecap="butt"/>
<line x1="1290.91" y1="961.60" x2="1290.91" y2="971.60" stroke="#000" stroke-width="2.1" stroke-linecap="butt"/>
<line x1="1121.60" y1="961.60" x2="1121.60" y2="674.00" stroke="#000" stroke-width="2.0" stroke-linecap="square"/>
<line x1="1121.60" y1="961.75" x2="1315.10" y2="961.75" stroke="#000" stroke-width="2.3" stroke-linecap="square"/>
<text x="1101.10" y="920.11" font-size="22.5" text-anchor="end" fill="#000">0.20</text>
<text x="1101.10" y="869.72" font-size="22.5" text-anchor="end" fill="#000">0.40</text>
<text x="1101.10" y="819.33" font-size="22.5" text-anchor="end" fill="#000">0.60</text>
<text x="1101.10" y="768.94" font-size="22.5" text-anchor="end" fill="#000">0.80</text>
<text x="1101.10" y="718.55" font-size="22.5" text-anchor="end" fill="#000">1.00</text>
<text x="1145.79" y="999.30" font-size="22.5" text-anchor="middle" fill="#000">H</text>
<text x="1194.16" y="999.30" font-size="22.5" text-anchor="middle" fill="#000">AA</text>
<text x="1242.54" y="999.30" font-size="22.5" text-anchor="middle" fill="#000">AA</text>
<text x="1290.91" y="999.30" font-size="22.5" text-anchor="middle" fill="#000">H</text>
<polyline points="1145.79,706.90 1145.79,704.30 1242.54,704.30 1242.54,706.90" fill="none" stroke="#1a1a1a" stroke-width="2" stroke-linejoin="miter"/>
<text x="1186.86" y="700.90" font-size="14" text-anchor="start" fill="#222">*</text>
<text x="1196.86" y="700.90" font-size="14" text-anchor="start" fill="#222">*</text>
<polyline points="1145.79,688.90 1145.79,686.30 1290.91,686.30 1290.91,688.90" fill="none" stroke="#1a1a1a" stroke-width="2" stroke-linejoin="miter"/>
<text x="1209.85" y="682.90" font-size="14" text-anchor="start" fill="#222">*</text>
<text x="1219.85" y="682.90" font-size="14" text-anchor="start" fill="#222">*</text>
<text x="1115.90" y="999.30" font-size="22.5" text-anchor="end" fill="#000">belief:</text>
<text x="1218.35" y="611.30" font-size="34.1" text-anchor="middle" fill="#000" font-style="italic">Creativity</text>
<text transform="translate(1035.22,817.80) rotate(-90)" font-size="22.5" text-anchor="middle">rating</text>
<line x1="1378.10" y1="911.21" x2="1471.90" y2="911.21" stroke="#eaeaea" stroke-width="1.7" stroke-linecap="butt"/>
<line x1="1378.10" y1="860.82" x2="1471.90" y2="860.82" stroke="#eaeaea" stroke-width="1.7" stroke-linecap="butt"/>
<line x1="1378.10" y1="810.43" x2="1471.90" y2="810.43" stroke="#eaeaea" stroke-width="1.7" stroke-linecap="butt"/>
<line x1="1378.10" y1="760.04" x2="1471.90" y2="760.04" stroke="#eaeaea" stroke-width="1.7" stroke-linecap="butt"/>
<line x1="1378.10" y1="709.65" x2="1471.90" y2="709.65" stroke="#eaeaea" stroke-width="1.7" stroke-linecap="butt"/>
<polygon points="1380.00,788.64 1424.00,782.46 1468.00,789.77 1468.00,802.02 1424.00,792.29 1380.00,798.71" fill="#007fff" fill-opacity="0.2" stroke="none"/>
<polygon points="1380.00,825.19 1424.00,823.78 1468.00,829.18 1468.00,842.48 1424.00,835.68 1380.00,836.38" fill="#7f00ff" fill-opacity="0.2" stroke="none"/>
<polyline points="1380.00,794.73 1424.00,787.50 1468.00,796.62" fill="none" stroke="#007fff" stroke-width="5.4" stroke-linecap="square" stroke-linejoin="round"/>
<polyline points="1380.00,830.59 1424.00,829.18 1468.00,835.98" fill="none" stroke="#7f00ff" stroke-width="5.4" stroke-linecap="square" stroke-linejoin="round"/>
<line x1="1365.60" y1="961.60" x2="1375.60" y2="961.60" stroke="#000" stroke-width="2.1" stroke-linecap="butt"/>
<line x1="1365.60" y1="911.21" x2="1375.60" y2="911.21" stroke="#000" stroke-width="2.1" stroke-linecap="butt"/>
<line x1="1365.60" y1="860.82" x2="1375.60" y2="860.82" stroke="#000" stroke-width="2.1" stroke-linecap="butt"/>
<line x1="1365.60" y1="810.43" x2="1375.60" y2="810.43" stroke="#000" stroke-width="2.1" stroke-linecap="butt"/>
<line x1="1365.60" y1="760.04" x2="1375.60" y2="760.04" stroke="#000" stroke-width="2.1" stroke-linecap="butt"/>
<line x1="1365.60" y1="709.65" x2="1375.60" y2="709.65" stroke="#000" stroke-width="2.1" stroke-linecap="butt"/>
<line x1="1380.00" y1="961.60" x2="1380.00" y2="971.60" stroke="#000" stroke-width="2.1" stroke-linecap="butt"/>
<line x1="1424.00" y1="961.60" x2="1424.00" y2="971.60" stroke="#000" stroke-width="2.1" stroke-linecap="butt"/>
<line x1="1468.00" y1="961.60" x2="1468.00" y2="971.60" stroke="#000" stroke-width="2.1" stroke-linecap="butt"/>
<line x1="1375.60" y1="961.60" x2="1375.60" y2="674.00" stroke="#000" stroke-width="2.0" stroke-linecap="square"/>
<line x1="1375.60" y1="961.75" x2="1472.40" y2="961.75" stroke="#000" stroke-width="2.3" stroke-linecap="square"/>
<text x="1380.00" y="999.30" font-size="22.5" text-anchor="middle" fill="#000">1</text>
<text x="1424.00" y="999.30" font-size="22.5" text-anchor="middle" fill="#000">2</text>
<text x="1468.00" y="999.30" font-size="22.5" text-anchor="middle" fill="#000">3</text>
<text x="1424.00" y="1032.30" font-size="22.5" text-anchor="middle" fill="#000">Trial</text>
<line x1="1628.50" y1="904.08" x2="1819.00" y2="904.08" stroke="#eaeaea" stroke-width="1.7" stroke-linecap="butt"/>
<line x1="1628.50" y1="846.56" x2="1819.00" y2="846.56" stroke="#eaeaea" stroke-width="1.7" stroke-linecap="butt"/>
<line x1="1628.50" y1="789.04" x2="1819.00" y2="789.04" stroke="#eaeaea" stroke-width="1.7" stroke-linecap="butt"/>
<line x1="1628.50" y1="731.52" x2="1819.00" y2="731.52" stroke="#eaeaea" stroke-width="1.7" stroke-linecap="butt"/>
<line x1="1628.50" y1="674.00" x2="1819.00" y2="674.00" stroke="#eaeaea" stroke-width="1.7" stroke-linecap="butt"/>
<line x1="1650.19" y1="751.94" x2="1650.19" y2="803.42" stroke="#007fff" stroke-width="2.0" stroke-linecap="butt"/>
<line x1="1650.19" y1="690.11" x2="1650.19" y2="674.00" stroke="#007fff" stroke-width="2.0" stroke-linecap="butt"/>
<line x1="1642.39" y1="803.42" x2="1657.99" y2="803.42" stroke="#007fff" stroke-width="2.0" stroke-linecap="square"/>
<line x1="1642.39" y1="674.00" x2="1657.99" y2="674.00" stroke="#007fff" stroke-width="2.0" stroke-linecap="square"/>
<rect x="1634.59" y="690.11" width="31.20" height="61.83" fill="rgba(0,127,255,0.35)" stroke="#007fff" stroke-width="2.0"/>
<line x1="1634.59" y1="727.32" x2="1665.79" y2="727.32" stroke="#007fff" stroke-width="2.7" stroke-linecap="butt"/>
<line x1="1698.56" y1="753.09" x2="1698.56" y2="830.45" stroke="#007fff" stroke-width="2.0" stroke-linecap="butt"/>
<line x1="1698.56" y1="701.03" x2="1698.56" y2="674.00" stroke="#007fff" stroke-width="2.0" stroke-linecap="butt"/>
<line x1="1690.76" y1="830.45" x2="1706.36" y2="830.45" stroke="#007fff" stroke-width="2.0" stroke-linecap="square"/>
<line x1="1690.76" y1="674.00" x2="1706.36" y2="674.00" stroke="#007fff" stroke-width="2.0" stroke-linecap="square"/>
<rect x="1682.96" y="701.03" width="31.20" height="52.06" fill="rgba(0,127,255,0.35)" stroke="#007fff" stroke-width="2.0"/>
<line x1="1682.96" y1="723.18" x2="1714.16" y2="723.18" stroke="#007fff" stroke-width="2.7" stroke-linecap="butt"/>
<line x1="1746.94" y1="753.09" x2="1746.94" y2="809.17" stroke="#7f00ff" stroke-width="2.0" stroke-linecap="butt"/>
<line x1="1746.94" y1="704.31" x2="1746.94" y2="674.00" stroke="#7f00ff" stroke-width="2.0" stroke-linecap="butt"/>
<line x1="1739.14" y1="809.17" x2="1754.74" y2="809.17" stroke="#7f00ff" stroke-width="2.0" stroke-linecap="square"/>
<line x1="1739.14" y1="674.00" x2="1754.74" y2="674.00" stroke="#7f00ff" stroke-width="2.0" stroke-linecap="square"/>
<rect x="1731.34" y="704.31" width="31.20" height="48.78" fill="rgba(127,0,255,0.35)" stroke="#7f00ff" stroke-width="2.0"/>
<line x1="1731.34" y1="733.82" x2="1762.54" y2="733.82" stroke="#7f00ff" stroke-width="2.7" stroke-linecap="butt"/>
<line x1="1795.31" y1="763.04" x2="1795.31" y2="834.19" stroke="#7f00ff" stroke-width="2.0" stroke-linecap="butt"/>
<line x1="1795.31" y1="704.31" x2="1795.31" y2="674.00" stroke="#7f00ff" stroke-width="2.0" stroke-linecap="butt"/>
<line x1="1787.51" y1="834.19" x2="1803.11" y2="834.19" stroke="#7f00ff" stroke-width="2.0" stroke-linecap="square"/>
<line x1="1787.51" y1="674.00" x2="1803.11" y2="674.00" stroke="#7f00ff" stroke-width="2.0" stroke-linecap="square"/>
<rect x="1779.71" y="704.31" width="31.20" height="58.73" fill="rgba(127,0,255,0.35)" stroke="#7f00ff" stroke-width="2.0"/>
<line x1="1779.71" y1="740.15" x2="1810.91" y2="740.15" stroke="#7f00ff" stroke-width="2.7" stroke-linecap="butt"/>
<line x1="1616.00" y1="961.60" x2="1626.00" y2="961.60" stroke="#000" stroke-width="2.1" stroke-linecap="butt"/>
<line x1="1616.00" y1="904.08" x2="1626.00" y2="904.08" stroke="#000" stroke-width="2.1" stroke-linecap="butt"/>
<line x1="1616.00" y1="846.56" x2="1626.00" y2="846.56" stroke="#000" stroke-width="2.1" stroke-linecap="butt"/>
<line x1="1616.00" y1="789.04" x2="1626.00" y2="789.04" stroke="#000" stroke-width="2.1" stroke-linecap="butt"/>
<line x1="1616.00" y1="731.52" x2="1626.00" y2="731.52" stroke="#000" stroke-width="2.1" stroke-linecap="butt"/>
<line x1="1616.00" y1="674.00" x2="1626.00" y2="674.00" stroke="#000" stroke-width="2.1" stroke-linecap="butt"/>
<line x1="1650.19" y1="961.60" x2="1650.19" y2="971.60" stroke="#000" stroke-width="2.1" stroke-linecap="butt"/>
<line x1="1698.56" y1="961.60" x2="1698.56" y2="971.60" stroke="#000" stroke-width="2.1" stroke-linecap="butt"/>
<line x1="1746.94" y1="961.60" x2="1746.94" y2="971.60" stroke="#000" stroke-width="2.1" stroke-linecap="butt"/>
<line x1="1795.31" y1="961.60" x2="1795.31" y2="971.60" stroke="#000" stroke-width="2.1" stroke-linecap="butt"/>
<line x1="1626.00" y1="961.60" x2="1626.00" y2="674.00" stroke="#000" stroke-width="2.0" stroke-linecap="square"/>
<line x1="1626.00" y1="961.75" x2="1819.50" y2="961.75" stroke="#000" stroke-width="2.3" stroke-linecap="square"/>
<text x="1605.50" y="912.98" font-size="22.5" text-anchor="end" fill="#000">0.20</text>
<text x="1605.50" y="855.46" font-size="22.5" text-anchor="end" fill="#000">0.40</text>
<text x="1605.50" y="797.94" font-size="22.5" text-anchor="end" fill="#000">0.60</text>
<text x="1605.50" y="740.42" font-size="22.5" text-anchor="end" fill="#000">0.80</text>
<text x="1605.50" y="682.90" font-size="22.5" text-anchor="end" fill="#000">1.00</text>
<text x="1650.19" y="999.30" font-size="22.5" text-anchor="middle" fill="#000">H</text>
<text x="1698.56" y="999.30" font-size="22.5" text-anchor="middle" fill="#000">AA</text>
<text x="1746.94" y="999.30" font-size="22.5" text-anchor="middle" fill="#000">AA</text>
<text x="1795.31" y="999.30" font-size="22.5" text-anchor="middle" fill="#000">H</text>
<text x="1620.30" y="999.30" font-size="22.5" text-anchor="end" fill="#000">belief:</text>
<text x="1722.75" y="611.30" font-size="34.1" text-anchor="middle" fill="#000" font-style="italic">Focus</text>
<text transform="translate(1539.62,817.80) rotate(-90)" font-size="22.5" text-anchor="middle">rating</text>
<line x1="1882.50" y1="904.08" x2="1976.30" y2="904.08" stroke="#eaeaea" stroke-width="1.7" stroke-linecap="butt"/>
<line x1="1882.50" y1="846.56" x2="1976.30" y2="846.56" stroke="#eaeaea" stroke-width="1.7" stroke-linecap="butt"/>
<line x1="1882.50" y1="789.04" x2="1976.30" y2="789.04" stroke="#eaeaea" stroke-width="1.7" stroke-linecap="butt"/>
<line x1="1882.50" y1="731.52" x2="1976.30" y2="731.52" stroke="#eaeaea" stroke-width="1.7" stroke-linecap="butt"/>
<line x1="1882.50" y1="674.00" x2="1976.30" y2="674.00" stroke="#eaeaea" stroke-width="1.7" stroke-linecap="butt"/>
<polygon points="1884.40,717.43 1928.40,719.44 1972.40,724.04 1972.40,735.09 1928.40,729.79 1884.40,728.64" fill="#007fff" fill-opacity="0.2" stroke="none"/>
<polygon points="1884.40,714.26 1928.40,732.81 1972.40,741.21 1972.40,754.24 1928.40,740.90 1884.40,722.32" fill="#7f00ff" fill-opacity="0.2" stroke="none"/>
<polyline points="1884.40,723.18 1928.40,723.47 1972.40,729.91" fill="none" stroke="#007fff" stroke-width="5.4" stroke-linecap="square" stroke-linejoin="round"/>
<polyline points="1884.40,718.58 1928.40,736.81 1972.40,748.78" fill="none" stroke="#7f00ff" stroke-width="5.4" stroke-linecap="square" stroke-linejoin="round"/>
<line x1="1870.00" y1="961.60" x2="1880.00" y2="961.60" stroke="#000" stroke-width="2.1" stroke-linecap="butt"/>
<line x1="1870.00" y1="904.08" x2="1880.00" y2="904.08" stroke="#000" stroke-width="2.1" stroke-linecap="butt"/>
<line x1="1870.00" y1="846.56" x2="1880.00" y2="846.56" stroke="#000" stroke-width="2.1" stroke-linecap="butt"/>
<line x1="1870.00" y1="789.04" x2="1880.00" y2="789.04" stroke="#000" stroke-width="2.1" stroke-linecap="butt"/>
<line x1="1870.00" y1="731.52" x2="1880.00" y2="731.52" stroke="#000" stroke-width="2.1" stroke-linecap="butt"/>
<line x1="1870.00" y1="674.00" x2="1880.00" y2="674.00" stroke="#000" stroke-width="2.1" stroke-linecap="butt"/>
<line x1="1884.40" y1="961.60" x2="1884.40" y2="971.60" stroke="#000" stroke-width="2.1" stroke-linecap="butt"/>
<line x1="1928.40" y1="961.60" x2="1928.40" y2="971.60" stroke="#000" stroke-width="2.1" stroke-linecap="butt"/>
<line x1="1972.40" y1="961.60" x2="1972.40" y2="971.60" stroke="#000" stroke-width="2.1" stroke-linecap="butt"/>
<line x1="1880.00" y1="961.60" x2="1880.00" y2="674.00" stroke="#000" stroke-width="2.0" stroke-linecap="square"/>
<line x1="1880.00" y1="961.75" x2="1976.80" y2="961.75" stroke="#000" stroke-width="2.3" stroke-linecap="square"/>
<text x="1884.40" y="999.30" font-size="22.5" text-anchor="middle" fill="#000">1</text>
<text x="1928.40" y="999.30" font-size="22.5" text-anchor="middle" fill="#000">2</text>
<text x="1972.40" y="999.30" font-size="22.5" text-anchor="middle" fill="#000">3</text>
<text x="1928.40" y="1032.30" font-size="22.5" text-anchor="middle" fill="#000">Trial</text>
<text x="1975.15" y="757.99" font-size="28.3" text-anchor="start" fill="#7f00ff">**</text>
</svg></body></html>
